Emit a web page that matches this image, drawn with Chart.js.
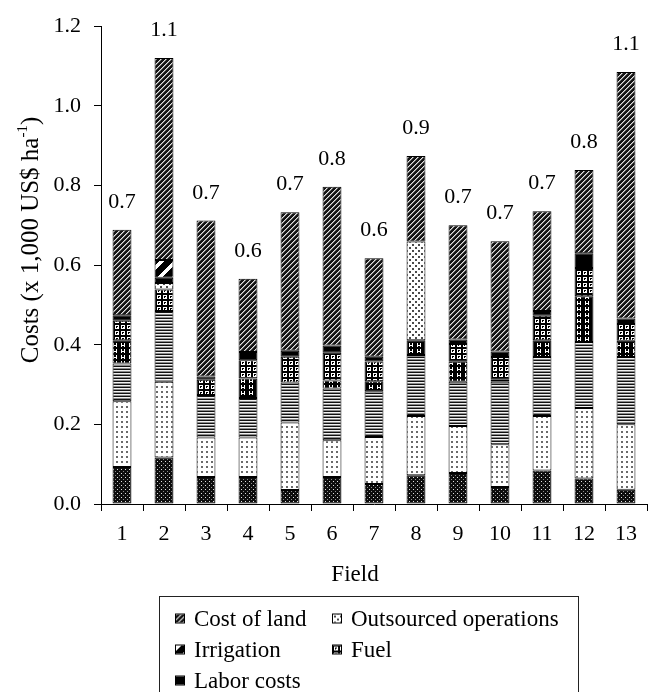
<!DOCTYPE html>
<html>
<head>
<meta charset="utf-8">
<script src="https://cdn.jsdelivr.net/npm/chart.js@4.4.1/dist/chart.umd.min.js"></script>
<style>
  html, body { margin: 0; padding: 0; background: #fff; }
  #wrap { position: relative; width: 651px; height: 692px; overflow: hidden; }
  #chart { position: absolute; left: 0; top: 0; }
  #legend {
    position: absolute; left: 159px; top: 596px; width: 420px; height: 120px;
    border: 1.5px solid #222; box-sizing: border-box;
    font-family: "Liberation Serif", "Times New Roman", serif; font-size: 23px; color: #000;
  }
  .item { position: absolute; display: flex; align-items: center; white-space: nowrap; line-height: 1; }
  .sw { width: 10px; height: 10px; box-sizing: border-box; border: 1px solid #000; margin-right: 9px; background-repeat: repeat; }
</style>
</head>
<body>
<div id="wrap">
  <canvas id="chart" width="651" height="692"></canvas>
  <div id="legend"></div>
</div>
<script>
// Production cost components per field (x 1,000 US$ per ha), bottom of the stack first
const fields      = ['1','2','3','4','5','6','7','8','9','10','11','12','13'];
const darkDots    = [0.093,0.117,0.068,0.068,0.035,0.068,0.050,0.072,0.078,0.043,0.084,0.064,0.036];
const lightDots   = [0.165,0.190,0.099,0.099,0.170,0.092,0.118,0.149,0.118,0.107,0.137,0.177,0.164];
const striped     = [0.095,0.178,0.107,0.099,0.100,0.130,0.115,0.153,0.111,0.157,0.148,0.166,0.169];
const brickwork   = [0.058,0.000,0.000,0.049,0.000,0.020,0.025,0.037,0.050,0.005,0.042,0.115,0.041];
const fuel        = [0.049,0.054,0.038,0.046,0.065,0.070,0.050,0.000,0.045,0.057,0.062,0.071,0.042];
const outsourced  = [0.000,0.016,0.000,0.000,0.000,0.000,0.000,0.248,0.000,0.000,0.000,0.000,0.000];
const labor       = [0.014,0.013,0.008,0.021,0.015,0.018,0.012,0.000,0.011,0.014,0.012,0.037,0.014];
const irrigation  = [0.000,0.045,0.000,0.000,0.000,0.000,0.000,0.000,0.000,0.000,0.000,0.000,0.000];
const landCost    = [0.215,0.507,0.392,0.184,0.348,0.399,0.247,0.215,0.287,0.277,0.250,0.209,0.619];
const yTicks      = [0, 0.2, 0.4, 0.6, 0.8, 1.0, 1.2];

const FONT = '"Liberation Serif", "Times New Roman", serif';

// ---- fill patterns -------------------------------------------------------
function tile(w, h, paint) {
  const c = document.createElement('canvas');
  c.width = w; c.height = h;
  paint(c.getContext('2d'));
  return c;
}
function px(g, color, x, y, w = 1, h = 1) { g.fillStyle = color; g.fillRect(x, y, w, h); }

const tiles = {
  land: tile(5, 5, g => {
    for (let x = 0; x < 5; x++) for (let y = 0; y < 5; y++) {
      const d = (x + y) % 5;
      px(g, d === 4 ? '#e4e4e4' : d === 0 ? '#7a7a7a' : '#141414', x, y);
    }
  }),
  irrigation: tile(14, 14, g => {
    for (let x = 0; x < 14; x++) for (let y = 0; y < 14; y++) {
      const d = (x + y) % 14;
      px(g, d < 5 ? '#ffffff' : '#000000', x, y);
    }
  }),
  labor: tile(2, 2, g => px(g, '#000', 0, 0, 2, 2)),
  fuel: tile(6, 6, g => {
    px(g, '#000', 0, 0, 6, 6);
    px(g, '#fff', 1, 1, 4, 4);
    px(g, '#000', 2, 2, 2, 2);
    px(g, '#fff', 3, 3, 1, 1);
  }),
  outsourced: tile(6, 6, g => {
    px(g, '#fff', 0, 0, 6, 6);
    px(g, '#4a4a4a', 1, 1, 2, 2); px(g, '#4a4a4a', 4, 4, 2, 2);
  }),
  brick: tile(8, 6, g => {
    px(g, '#000', 0, 0, 8, 6);
    px(g, '#fff', 1, 1, 1, 4); px(g, '#fff', 4, 1, 1, 4); px(g, '#fff', 1, 3, 4, 1);
  }),
  striped: tile(1, 3, g => {
    px(g, '#111', 0, 0); px(g, '#f2f2f2', 0, 1); px(g, '#8a8a8a', 0, 2);
  }),
  lightDots: tile(5, 5, g => {
    px(g, '#fff', 0, 0, 5, 5); px(g, '#6a6a6a', 1, 1, 2, 2);
  }),
  darkDots: tile(4, 4, g => {
    px(g, '#0d0d0d', 0, 0, 4, 4); px(g, '#e0e0e0', 1, 1); px(g, '#8c8c8c', 3, 3);
  })
};

const canvas = document.getElementById('chart');
const ctx = canvas.getContext('2d');
const pat = k => ctx.createPattern(tiles[k], 'repeat');

// ---- datasets (stack order bottom -> top) ---------------------------------
const layers = [
  ['Other costs 1', darkDots, 'darkDots'],
  ['Other costs 2', lightDots, 'lightDots'],
  ['Other costs 3', striped, 'striped'],
  ['Other costs 4', brickwork, 'brick'],
  ['Fuel', fuel, 'fuel'],
  ['Outsourced operations', outsourced, 'outsourced'],
  ['Labor costs', labor, 'labor'],
  ['Irrigation', irrigation, 'irrigation'],
  ['Cost of land', landCost, 'land']
];

const totals = fields.map((_, i) => layers.reduce((s, l) => s + l[1][i], 0));

const datasets = layers.map(([label, values, key]) => ({
  label,
  data: values,
  backgroundColor: pat(key),
  borderColor: '#000',
  borderWidth: 1,
  borderSkipped: false,
  stack: 'cost',
  barPercentage: 0.45,
  categoryPercentage: 1.0
}));

// ---- titles and total labels ----------------------------------------------
const annotate = {
  id: 'annotate',
  afterDraw(chart) {
    const c = chart.ctx;
    const topMeta = chart.getDatasetMeta(chart.data.datasets.length - 1);
    c.save();
    c.fillStyle = '#000';
    c.font = '22px ' + FONT;
    c.textAlign = 'center';
    c.textBaseline = 'alphabetic';
    totals.forEach((t, i) => {
      const bar = topMeta.data[i];
      c.fillText((Math.round(t * 10) / 10).toFixed(1), bar.x, bar.y - 22);
    });

    // x axis title
    c.font = '23px ' + FONT;
    c.textBaseline = 'middle';
    c.fillText('Field', 355, 575);

    // y axis title with superscript unit exponent
    const main = 'Costs (x 1,000 US$ ha';
    const sup = '-1';
    const tail = ')';
    const fMain = '25px ' + FONT, fSup = '15px ' + FONT;
    c.font = fMain; const wMain = c.measureText(main).width; const wTail = c.measureText(tail).width;
    c.font = fSup; const wSup = c.measureText(sup).width;
    const total = wMain + wSup + wTail;
    c.translate(31, 240);
    c.rotate(-Math.PI / 2);
    c.textAlign = 'left';
    c.textBaseline = 'middle';
    let x = -total / 2;
    c.font = fMain; c.fillText(main, x, 0); x += wMain;
    c.font = fSup; c.fillText(sup, x, -8); x += wSup;
    c.font = fMain; c.fillText(tail, x, 0);
    c.restore();
  }
};

new Chart(canvas, {
  type: 'bar',
  data: { labels: fields, datasets },
  plugins: [annotate],
  options: {
    responsive: false,
    animation: false,
    layout: { padding: { top: 20, right: 4, bottom: 0, left: 0 } },
    plugins: { legend: { display: false }, tooltip: { enabled: false } },
    scales: {
      x: {
        stacked: true,
        grid: { display: true, offset: true, drawOnChartArea: false, drawTicks: true, tickLength: 7, color: '#000', lineWidth: 1 },
        border: { display: true, color: '#000', width: 1 },
        ticks: { color: '#000', font: { family: FONT, size: 22 }, padding: 10, maxRotation: 0 },
        afterFit(scale) { scale.height = 188; }
      },
      y: {
        stacked: true,
        min: 0, max: 1.2,
        afterBuildTicks(scale) { scale.ticks = yTicks.map(v => ({ value: v })); },
        grid: { display: true, drawOnChartArea: false, drawTicks: true, tickLength: 7, color: '#000', lineWidth: 1 },
        border: { display: true, color: '#000', width: 1 },
        ticks: { color: '#000', font: { family: FONT, size: 22 }, padding: 13, callback: v => Number(v).toFixed(1) },
        afterFit(scale) { scale.width = 101; }
      }
    }
  }
});

// ---- legend (two columns, row-major) ---------------------------------------
const legendEntries = [
  ['Cost of land', 'land'],
  ['Outsourced operations', 'outsourced'],
  ['Irrigation', 'irrigation'],
  ['Fuel', 'fuel'],
  ['Labor costs', 'labor']
];
const legend = document.getElementById('legend');
legendEntries.forEach(([text, key], i) => {
  const col = i % 2, row = Math.floor(i / 2);
  const item = document.createElement('div');
  item.className = 'item';
  item.style.left = (col === 0 ? 15 : 172) + 'px';
  item.style.top = (21 + row * 31) + 'px';
  item.style.transform = 'translateY(-50%)';
  const sw = document.createElement('span');
  sw.className = 'sw';
  sw.style.backgroundImage = 'url(' + tiles[key].toDataURL() + ')';
  const label = document.createElement('span');
  label.textContent = text;
  item.appendChild(sw);
  item.appendChild(label);
  legend.appendChild(item);
});
</script>
</body>
</html>
